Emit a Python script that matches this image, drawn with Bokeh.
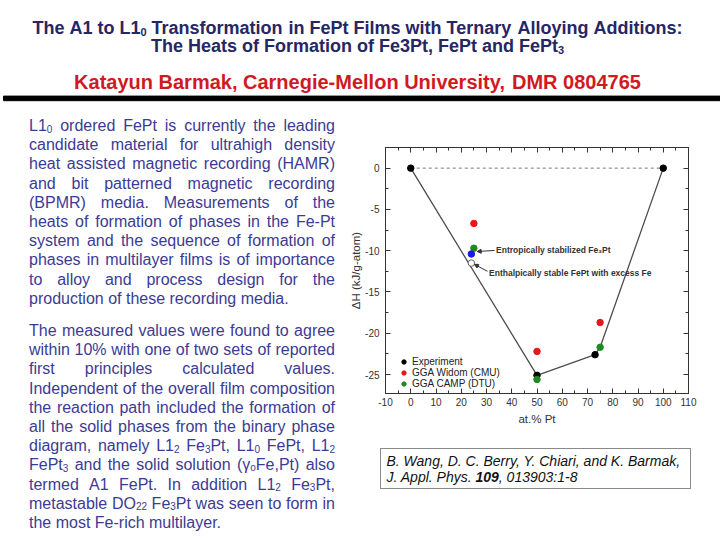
from bokeh.plotting import figure
from bokeh.layouts import column, row
from bokeh.models import (Range1d, LinearAxis, SingleIntervalTicker, Label, Arrow, Div,
                          NormalHead, Legend, LegendItem, PrintfTickFormatter)
from bokeh.core.properties import value
from bokeh.embed import file_html
from bokeh.resources import INLINE

FONT = "Liberation Sans"

# ---------------- data ----------------
comp_exp = [0, 50, 73, 100]
dh_exp = [0.0, -25.1, -22.6, 0.0]
comp_cmu = [25, 50, 75]
dh_cmu = [-6.7, -22.2, -18.7]
comp_dtu = [25, 50, 75]
dh_dtu = [-9.7, -25.6, -21.7]
comp_fe3pt = [24]
dh_fe3pt = [-10.4]
comp_fept_fe = [24]
dh_fept_fe = [-11.5]
hull_comp = [0, 50, 73, 75, 100]
hull_dh = [0.0, -25.1, -22.6, -21.7, 0.0]
ref_comp = [0, 100]
ref_dh = [0.0, 0.0]
x_tick_values = list(range(-10, 111, 10))
y_tick_values = [-30, -25, -20, -15, -10, -5, 0, 5]

TITLE_1 = "The A1 to L1_{0} Transformation in FePt Films with Ternary Alloying Additions:"
TITLE_2 = "The Heats of Formation of Fe3Pt, FePt and FePt_{3}"
AUTHOR = "Katayun Barmak, Carnegie-Mellon University, DMR 0804765"

PARA_1 = [
    "L1_{0} ordered FePt is currently the leading",
    "candidate material for ultrahigh density",
    "heat assisted magnetic recording (HAMR)",
    "and bit patterned magnetic recording",
    "(BPMR) media. Measurements of the",
    "heats of formation of phases in the Fe-Pt",
    "system and the sequence of formation of",
    "phases in multilayer films is of importance",
    "to alloy and process design for the",
    "production of these recording media.",
]
PARA_2 = [
    "The measured values were found to agree",
    "within 10% with one of two sets of reported",
    "first principles calculated values.",
    "Independent of the overall film composition",
    "the reaction path included the formation of",
    "all the solid phases from the binary phase",
    "diagram, namely L1_{2} Fe_{3}Pt, L1_{0} FePt, L1_{2}",
    "FePt_{3} and the solid solution (\u03b3_{o}Fe,Pt) also",
    "termed A1 FePt.  In addition L1_{2} Fe_{3}Pt,",
    "metastable DO_{22} Fe_{3}Pt was seen to form in",
    "the most Fe-rich multilayer.",
]

CITE_1 = "B. Wang, D. C. Berry, Y. Chiari, and K. Barmak,"
CITE_2 = ["J. Appl. Phys. ", "109", ", 013903:1-8"]

# --------------- font metrics (Arial / Liberation Sans, 1/1000 em) ---------------
def _table(upper, lower, extra):
    t = {}
    for c, w in zip("ABCDEFGHIJKLMNOPQRSTUVWXYZ", upper):
        t[c] = w
    for c, w in zip("abcdefghijklmnopqrstuvwxyz", lower):
        t[c] = w
    for d in "0123456789":
        t[d] = 556
    t.update(extra)
    return t

W_REG = _table(
    [667, 667, 722, 722, 667, 611, 778, 722, 278, 500, 667, 556, 833, 722, 778, 667, 778, 722, 667, 611, 722, 667, 944, 667, 667, 611],
    [556, 556, 500, 556, 556, 278, 556, 556, 222, 222, 500, 222, 833, 556, 556, 556, 556, 333, 500, 278, 556, 500, 722, 500, 500, 500],
    {" ": 278, "(": 333, ")": 333, ",": 278, "-": 333, ".": 278, "%": 889, ":": 278, "/": 278, "\u03b3": 500})
W_BOLD = _table(
    [722, 722, 722, 722, 667, 611, 778, 722, 278, 556, 722, 611, 833, 722, 778, 667, 778, 722, 667, 611, 722, 667, 944, 667, 667, 611],
    [556, 611, 556, 611, 556, 333, 611, 611, 278, 278, 556, 278, 889, 611, 611, 611, 611, 389, 556, 333, 611, 556, 778, 556, 556, 500],
    {" ": 278, "(": 333, ")": 333, ",": 278, "-": 333, ".": 278, "%": 889, ":": 333, "/": 278})


def text_width(s, size, bold=False):
    tab = W_BOLD if bold else W_REG
    return sum(tab.get(c, 556) for c in s) * size / 1000.0


def parse_token(tok):
    segs, buf, i = [], "", 0
    while i < len(tok):
        if tok.startswith("_{", i):
            if buf:
                segs.append((buf, False))
                buf = ""
            j = tok.index("}", i)
            segs.append((tok[i + 2:j], True))
            i = j + 1
        else:
            buf += tok[i]
            i += 1
    if buf:
        segs.append((buf, False))
    return segs


def token_width(segs, size, sub_size, bold):
    return sum(text_width(t, sub_size if s else size, bold) for t, s in segs)


def layout_line(line, x0, x1, y, size, sub_size, sub_dy, bold, mode, runs):
    toks = [parse_token(t) for t in line.split()]
    widths = [token_width(t, size, sub_size, bold) for t in toks]
    space = text_width(" ", size, bold)
    if mode == "justify" and len(toks) > 1:
        gap = (x1 - x0 - sum(widths)) / (len(toks) - 1)
        x = x0
    elif mode == "center":
        gap = space
        total = sum(widths) + space * (len(toks) - 1)
        x = (x0 + x1) / 2.0 - total / 2.0
    else:
        gap = space
        x = x0
    for segs in toks:
        for t, s in segs:
            if s:
                runs.append((x, y + sub_dy, t, sub_size))
                x += text_width(t, sub_size, bold)
            else:
                runs.append((x, y, t, size))
                x += text_width(t, size, bold)
        x += gap


def draw_runs(p, runs, color, style, dx=0.0, dy=0.0):
    for sz in sorted(set(r[3] for r in runs)):
        rr = [r for r in runs if r[3] == sz]
        p.text(x=[r[0] - dx for r in rr], y=[r[1] - dy for r in rr], text=[r[2] for r in rr],
               text_font=value(FONT), text_font_size=value(f"{sz}px"),
               text_font_style=value(style), text_color=color,
               text_align="left", text_baseline="alphabetic")


def blank_fig(w, h):
    p = figure(width=w, height=h, x_range=Range1d(0, w), y_range=Range1d(h, 0),
               output_backend="svg", toolbar_location=None,
               x_axis_location=None, y_axis_location=None, min_border=0)
    p.grid.visible = False
    p.outline_line_color = None
    return p


NAVY = "#262663"
BODY = "#3b3b94"
RED = "#d11a1f"
AX = "#333333"

# page split (page pixels)
HEAD_H = 104
LEFT_W = 340
CHART_BOTTOM = 432

# ---------------- header ----------------
head = blank_fig(720, HEAD_H)
runs = []
layout_line(TITLE_1, 0, 714, 27.7, 18, 11, 4, True, "center", runs)
layout_line(TITLE_2, 0, 714, 45.7, 18, 11, 4, True, "center", runs)
draw_runs(head, runs, NAVY, "bold")
runs = []
layout_line(AUTHOR, 0, 714, 81, 20, 12, 4, True, "center", runs)
draw_runs(head, runs, RED, "bold")
head.quad(left=[3], right=[725], top=[95.6], bottom=[100.2], color="#000000")

# ---------------- body text ----------------
body = blank_fig(LEFT_W, 540 - HEAD_H)
runs = []
L, R = 28.5, 334.5
for i, ln in enumerate(PARA_1):
    layout_line(ln, L, R, 125 + 19.2 * i, 16, 10, 3, False,
                "left" if i == len(PARA_1) - 1 else "justify", runs)
for i, ln in enumerate(PARA_2):
    layout_line(ln, L, R, 330 + 19.2 * i, 16, 10, 3, False,
                "left" if i == len(PARA_2) - 1 else "justify", runs)
draw_runs(body, runs, BODY, "normal", dy=HEAD_H)

# ---------------- chart ----------------
FL, FR, FT, FB = 385, 688, 147, 393
p = figure(frame_width=FR - FL, frame_height=FB - FT,
           x_range=Range1d(-10, 110), y_range=Range1d(-27.3, 2.5),
           output_backend="svg", toolbar_location=None,
           min_border_left=FL - LEFT_W, min_border_right=720 - FR,
           min_border_top=FT - HEAD_H, min_border_bottom=CHART_BOTTOM - FB)
p.frame_align = False
p.grid.visible = False
p.outline_line_color = AX

xb = p.below[0]
yl = p.left[0]
xb.ticker = SingleIntervalTicker(interval=10, num_minor_ticks=2)
yl.ticker = SingleIntervalTicker(interval=5, num_minor_ticks=2)
xb.formatter = PrintfTickFormatter(format="%d")
yl.formatter = PrintfTickFormatter(format="%d")
xt = LinearAxis(ticker=SingleIntervalTicker(interval=10, num_minor_ticks=2),
                major_label_overrides={v: "" for v in x_tick_values}, major_label_standoff=0)
yr = LinearAxis(ticker=SingleIntervalTicker(interval=5, num_minor_ticks=2),
                major_label_overrides={v: "" for v in y_tick_values}, major_label_standoff=0)
p.add_layout(xt, "above")
p.add_layout(yr, "right")
for ax in (xb, yl, xt, yr):
    ax.major_tick_in = 5
    ax.major_tick_out = 0
    ax.minor_tick_in = 3
    ax.minor_tick_out = 0
    ax.axis_line_color = AX
    ax.major_tick_line_color = AX
    ax.minor_tick_line_color = AX
    ax.major_label_text_font = FONT
    ax.major_label_text_color = "#333333"
    ax.major_label_text_font_size = "10px"
    ax.axis_label_text_font = FONT
    ax.axis_label_text_font_style = "normal"
    ax.axis_label_text_color = "#333333"
xb.major_label_standoff = 4
yl.major_label_standoff = 6
xb.axis_label = "at.% Pt"
yl.axis_label = "\u0394H (kJ/g-atom)"
xb.axis_label_text_font_size = "11.5px"
yl.axis_label_text_font_size = "11.5px"
xb.axis_label_standoff = 4
yl.axis_label_standoff = 0

p.line(ref_comp, ref_dh, line_color="#777777", line_width=1, line_dash="3 3")
p.line(hull_comp, hull_dh, line_color="#4d4d4d", line_width=1.3)
r_exp = p.scatter(comp_exp, dh_exp, size=6.5, color="#000000")
r_cmu = p.scatter(comp_cmu, dh_cmu, size=6.5, color="#e8161b")
r_dtu = p.scatter(comp_dtu, dh_dtu, size=6.5, color="#1f8a1f")
p.scatter(comp_fe3pt, dh_fe3pt, size=6.5, color="#1a1ae0")
p.scatter(comp_fept_fe, dh_fept_fe, size=6.5, fill_color="#ffffff", line_color="#666666")

head_style = dict(size=4, fill_color="#333333", line_color="#333333", line_width=1)
p.add_layout(Arrow(end=NormalHead(**head_style), x_start=33.2, y_start=-9.97,
                   x_end=26.3, y_end=-10.1, line_color="#333333", line_width=1))
p.add_layout(Arrow(end=NormalHead(**head_style), x_start=30.4, y_start=-12.5,
                   x_end=25.2, y_end=-11.65, line_color="#333333", line_width=1))
p.add_layout(Label(x=33.8, y=-9.97, text="Entropically stabilized Fe\u2083Pt",
                   text_font=FONT, text_font_size="8.5px", text_font_style="bold",
                   text_color="#333333", text_baseline="middle"))
p.add_layout(Label(x=31.0, y=-12.76, text="Enthalpically stable FePt with excess Fe",
                   text_font=FONT, text_font_size="8.5px", text_font_style="bold",
                   text_color="#333333", text_baseline="middle"))

legend = Legend(items=[LegendItem(label="Experiment", renderers=[r_exp]),
                       LegendItem(label="GGA Widom (CMU)", renderers=[r_cmu]),
                       LegendItem(label="GGA CAMP (DTU)", renderers=[r_dtu])],
                location=(13, 4), margin=0, padding=0, spacing=0,
                glyph_width=11, glyph_height=11, label_height=11, label_standoff=3,
                label_text_font=FONT, label_text_font_size="10px", label_text_color="#222222",
                background_fill_alpha=0, border_line_color=None)
p.add_layout(legend)

# ---------------- citation ----------------
cite_html = (
    f"{CITE_1}<br>{CITE_2[0]}<b>{CITE_2[1]}</b>{CITE_2[2]}"
)
cite = Div(text=cite_html, width=311, height=41,
           margin=(448 - CHART_BOTTOM, 0, 0, 40),
           styles={"border": "1px solid #8a8a8a", "box-sizing": "border-box",
                   "background-color": "#ffffff", "font-family": "'Liberation Sans', Arial, sans-serif",
                   "font-style": "italic", "font-size": "14px", "line-height": "16px",
                   "color": "#111111", "padding": "4px 0px 0px 5.5px", "white-space": "nowrap",
                   "overflow": "hidden"})

layout = column(head, row(body, column(p, cite)))
open("out.html", "w").write(file_html(layout, INLINE))
